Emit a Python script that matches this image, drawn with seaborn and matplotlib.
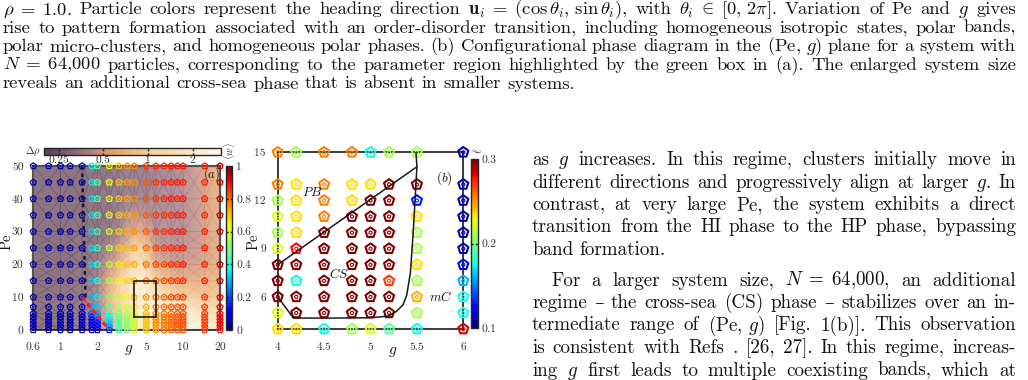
import numpy as np
import pandas as pd
import matplotlib
matplotlib.use("Agg")
import matplotlib.pyplot as plt
import seaborn as sns
from matplotlib.colors import LinearSegmentedColormap, LogNorm, Normalize
from matplotlib.cm import ScalarMappable

# ---------------- data ----------------
# panel (a): order parameter <w> on (g, Pe) grid
g_a = [0.6, 0.8, 1.0, 1.2, 1.5, 1.8, 2.0, 2.5, 3.0, 3.5, 4, 5, 6, 7, 8, 9, 10, 15, 20]
pe_a = [0, 1, 2, 3, 4, 5, 7, 10, 15, 20, 25, 30, 35, 40, 45, 50]
w_a = [
    [.04, .04, .04, .04, .05, .06, .08, .15, .42, .50, .60, .70, .75, .78, .80, .81, .82, .85, .88],
    [.04, .04, .04, .04, .05, .07, .10, .25, .44, .52, .60, .70, .75, .78, .80, .81, .82, .85, .90],
    [.04, .04, .04, .04, .05, .08, .12, .30, .45, .52, .60, .70, .76, .78, .80, .82, .83, .85, .90],
    [.04, .04, .04, .04, .05, .10, .15, .33, .46, .53, .60, .70, .76, .78, .80, .82, .83, .85, .90],
    [.04, .04, .04, .04, .05, .12, .22, .36, .48, .54, .60, .70, .76, .78, .80, .82, .83, .85, .90],
    [.04, .04, .04, .04, .06, .20, .28, .40, .50, .56, .62, .70, .76, .78, .80, .82, .83, .85, .90],
    [.04, .04, .04, .04, .07, .28, .32, .45, .55, .60, .66, .72, .78, .80, .82, .83, .84, .86, .92],
    [.04, .04, .04, .04, .08, .30, .36, .50, .60, .64, .70, .76, .80, .82, .84, .85, .86, .87, .93],
    [.04, .04, .04, .04, .07, .32, .40, .55, .64, .68, .72, .78, .82, .84, .85, .86, .87, .88, .95],
    [.04, .04, .04, .04, .07, .33, .42, .58, .66, .70, .73, .80, .84, .85, .86, .87, .88, .88, .95],
    [.04, .04, .04, .04, .06, .34, .42, .60, .68, .71, .74, .80, .84, .86, .87, .87, .88, .88, .95],
    [.04, .04, .04, .04, .06, .34, .43, .61, .68, .72, .75, .81, .85, .86, .87, .88, .88, .88, .95],
    [.04, .04, .04, .04, .06, .35, .43, .62, .69, .72, .75, .82, .85, .86, .87, .88, .88, .88, .95],
    [.04, .04, .04, .04, .06, .35, .44, .62, .70, .73, .76, .82, .85, .87, .88, .88, .88, .88, .95],
    [.04, .04, .04, .04, .06, .36, .45, .63, .70, .74, .76, .82, .86, .87, .88, .88, .88, .88, .95],
    [.04, .04, .04, .04, .06, .36, .45, .65, .72, .75, .77, .84, .86, .87, .88, .88, .88, .88, .95],
]
# panel (a): background density contrast
g_bg = [0.6, 1.0, 1.5, 2.0, 2.5, 3.0, 4.0, 5.0, 6.0, 8.0, 10.0, 15.0, 20.0]
pe_bg = [0, 5, 10, 15, 20, 25, 30, 40, 50]
drho = [
    [.26, .28, .30, .34, .60, .90, 1.6, 2.2, 2.6, 2.6, 2.6, 2.4, 2.0],
    [.26, .28, .30, .36, .65, 1.0, 1.8, 2.3, 2.6, 2.6, 2.2, 1.6, 1.3],
    [.26, .27, .29, .36, .70, 1.1, 2.0, 2.3, 1.8, 1.3, 1.0, .85, .90],
    [.26, .27, .28, .33, .60, .95, 1.9, 1.9, 1.0, .70, .60, .60, .70],
    [.26, .26, .27, .30, .45, .65, 1.5, 1.3, .60, .48, .45, .50, .62],
    [.26, .26, .27, .28, .35, .45, 1.1, .85, .45, .42, .42, .48, .62],
    [.26, .26, .26, .27, .30, .35, .55, .50, .40, .40, .40, .48, .62],
    [.26, .26, .26, .27, .28, .30, .33, .34, .36, .38, .40, .48, .65],
    [.26, .26, .26, .27, .28, .29, .31, .32, .34, .36, .40, .50, .70],
]
# panel (a) boundaries
black_g, black_pe = [1.5, 1.6], [50, 10]
red_g, red_pe = [1.5, 2.5], [10, 0]
box_g, box_pe = [4, 6], [4, 15]
a_xticks = [0.6, 1, 2, 5, 10, 20]
a_xlabels = ["0.6", "1", "2", "5", "10", "20"]
a_yticks = [0, 10, 20, 30, 40, 50]
rho_ticks = [0.25, 0.5, 1, 2]
rho_labels = ["0.25", "0.5", "1", "2"]
w_ticks = [0, 0.2, 0.4, 0.6, 0.8, 1]
w_labels = ["0", "0.2", "0.4", "0.6", "0.8", "1"]

# panel (b): band length l on (g, Pe) grid, N = 64,000
g_b = [4.0, 4.2, 4.5, 4.8, 5.0, 5.2, 5.5, 6.0]
pe_b = [4, 5, 6, 7, 8, 9, 10, 11, 12, 13, 15]
l_b = [
    [.235, .235, .175, .21, .222, .19, .175, .285],
    [.222, .30, .30, .30, .30, .30, .21, .175],
    [.30, .30, .30, .30, .30, .30, .245, .175],
    [.30, .175, .30, .30, .30, .27, .21, .16],
    [.30, .30, .30, .30, .30, .30, .235, .125],
    [.222, .28, .30, .30, .30, .30, .21, .11],
    [.21, .235, .30, .30, .30, .30, .21, .11],
    [.222, .235, .255, .30, .30, .30, .235, .11],
    [.21, .235, .255, .235, .30, .30, .13, .11],
    [.255, .235, .255, .235, .235, .30, .30, .11],
    [.255, .21, .255, .255, .175, .21, .21, .11],
]
cs_g = [4.0, 4.17, 4.6, 5.0, 5.19, 5.28, 5.35, 5.39, 5.43, 5.46, 5.48, 5.5]
cs_pe = [6.0, 4.68, 4.68, 4.7, 4.8, 5.1, 5.5, 6.1, 7.5, 10.0, 12.0, 14.1]
pb_g = [4.0, 5.5, 5.49]
pb_pe = [8.0, 14.1, 15.0]
b_xticks = [4, 4.5, 5, 5.5, 6]
b_xlabels = ["4", "4.5", "5", "5.5", "6"]
b_yticks = [6, 9, 12, 15]
l_ticks = [0.1, 0.2, 0.3]
l_labels = ["0.1", "0.2", "0.3"]

caption = [
    r"$\rho\;=\;1.0$. Particle colors represent the heading direction $\mathbf{u}_i\;=\;(\cos\theta_i,\,\sin\theta_i)$, with $\theta_i\;\in\;[0,\,2\pi]$. Variation of Pe and $g$ gives",
    "rise to pattern formation associated with an order-disorder transition, including homogeneous isotropic states, polar bands,",
    r"polar micro-clusters, and homogeneous polar phases. (b) Configurational phase diagram in the $(\mathrm{Pe},\,g)$ plane for a system with",
    r"$N\;=\;64{,}000$ particles, corresponding to the parameter region highlighted by the green box in (a). The enlarged system size",
    "reveals an additional cross-sea phase that is absent in smaller systems.",
]
body = [
    r"as $g$ increases. In this regime, clusters initially move in",
    r"different directions and progressively align at larger $g$. In",
    "contrast, at very large Pe, the system exhibits a direct",
    "transition from the HI phase to the HP phase, bypassing",
    "band formation.",
    r"For a larger system size, $N\;=\;64{,}000$, an additional",
    "regime \u2013 the cross-sea (CS) phase \u2013 stabilizes over an in-",
    r"termediate range of $(\mathrm{Pe},\,g)$ [Fig. 1(b)]. This observation",
    "is consistent with Refs . [26, 27]. In this regime, increas-",
    r"ing $g$ first leads to multiple coexisting bands, which at",
]

# ---------------- style ----------------
sns.set_theme(style="white")
plt.rcParams["font.family"] = ["cmr10", "DejaVu Serif"]
plt.rcParams["mathtext.fontset"] = "cm"
plt.rcParams["axes.formatter.use_mathtext"] = True
plt.rcParams["axes.unicode_minus"] = False

W, H = 1028, 380
fig = plt.figure(figsize=(W / 100, H / 100), dpi=100)
fig.patch.set_facecolor("white")
TXT = "#111111"
TCK = "#333333"
JET = matplotlib.colormaps["jet"]


def ax_px(l, t, r, b):
    return fig.add_axes([l / W, 1 - b / H, (r - l) / W, (b - t) / H])


rho_cmap = LinearSegmentedColormap.from_list(
    "rho",
    [(0.0, "#573b4e"), (0.148, "#806274"), (0.253, "#a87a84"), (0.334, "#d89672"),
     (0.457, "#eeae70"), (0.587, "#f6cc94"), (0.84, "#fce8c2"), (1.0, "#fffbf2")])
rho_norm = LogNorm(0.2, 3.1)

# ---------------- panel (a) ----------------
axa = ax_px(33.3, 166, 220, 330)
axa.set_xscale("log")
G, P = np.meshgrid(g_bg, pe_bg)
axa.pcolormesh(G, P, np.array(drho), shading="gouraud", cmap=rho_cmap, norm=rho_norm,
               alpha=0.8, zorder=0, rasterized=True)
n_before = len(axa.collections)
gg, pp = np.meshgrid(g_a, pe_a)
dfa = pd.DataFrame({"g": gg.ravel(), "Pe": pp.ravel(), "w": np.array(w_a).ravel()})
sns.scatterplot(data=dfa, x="g", y="Pe", hue="w", palette=JET, hue_norm=(0, 1),
                marker="p", s=21, linewidth=0.9, legend=False, ax=axa, zorder=3)
sns.scatterplot(data=dfa, x="g", y="Pe", hue="w", palette=JET, hue_norm=(0, 1),
                marker="o", s=1.3, linewidth=0.5, legend=False, ax=axa, zorder=3)
for coll in axa.collections[n_before:]:
    fc = coll.get_facecolors()
    coll.set_edgecolors(fc)
    coll.set_facecolors("none")
    coll.set_clip_on(False)
axa.plot(black_g, black_pe, color="k", lw=1.8, ls=(0, (1.5, 1.5)), zorder=4)
axa.plot(red_g, red_pe, color="#ff1a1a", lw=2.2, ls=(0, (1.5, 1.2)), zorder=4)
axa.plot([box_g[0], box_g[1], box_g[1], box_g[0], box_g[0]],
         [box_pe[0], box_pe[0], box_pe[1], box_pe[1], box_pe[0]], color="k", lw=1.2, zorder=4)
axa.set_xlim(0.6, 20)
axa.set_ylim(0, 50)
axa.minorticks_off()
axa.set_xticks(a_xticks)
axa.set_xticklabels(a_xlabels)
axa.set_yticks(a_yticks)
axa.set_yticklabels([str(v) for v in a_yticks])
axa.tick_params(axis="x", length=0, pad=9, labelsize=8.3, labelcolor=TCK)
axa.tick_params(axis="y", length=0, pad=7, labelsize=8.3, labelcolor=TCK)
axa.set_xlabel("")
axa.set_ylabel("")
for s in ["left", "right", "top"]:
    axa.spines[s].set_color("#555555")
    axa.spines[s].set_linewidth(1.6)
axa.spines["bottom"].set_color("k")
axa.spines["bottom"].set_linewidth(1.2)
fig.text(129 / W, 1 - 352 / H, r"$g$", fontsize=11, ha="center", va="baseline", color=TXT)
fig.text(7 / W, 1 - 242 / H, "Pe", fontsize=10.5, ha="center", va="center", rotation=90, color=TXT)
fig.text(212 / W, 1 - 174 / H, r"$(a)$", fontsize=9, ha="center", va="center", color=TXT)

# top colorbar (Delta rho)
cax_r = ax_px(44.3, 147.5, 221, 155)
cbr = fig.colorbar(ScalarMappable(rho_norm, rho_cmap), cax=cax_r, orientation="horizontal")
cbr.minorticks_off()
cbr.set_ticks(rho_ticks)
cbr.set_ticklabels(rho_labels)
cax_r.tick_params(length=0, pad=0.5, labelsize=8.3, labelcolor=TCK)
cbr.outline.set_linewidth(1.0)
for v in rho_ticks:
    cax_r.axvline(v, color="k", lw=1.0, ls=(0, (1.5, 1.5)))
fig.text(33 / W, 1 - 151 / H, r"$\Delta\rho$", fontsize=7.5, ha="center", va="center", color=TCK)

# right colorbar (<w>)
cax_w = ax_px(225.7, 166, 232.3, 330)
cbw = fig.colorbar(ScalarMappable(Normalize(0, 1), JET), cax=cax_w)
cbw.set_ticks(w_ticks)
cbw.set_ticklabels(w_labels)
cax_w.tick_params(length=0, pad=3, labelsize=8.3, labelcolor=TCK)
cbw.outline.set_linewidth(1.0)
for v in w_ticks[1:-1]:
    cax_w.axhline(v, color="k", lw=1.0, ls=(0, (1.5, 1.5)))
fig.text(229 / W, 1 - 151 / H, r"$\langle w\rangle$", fontsize=7.5, ha="center", va="center",
         rotation=90, color=TCK)

# ---------------- panel (b) ----------------
axb = ax_px(277.7, 152.3, 463.3, 329)
gb, pb = np.meshgrid(g_b, pe_b)
dfb = pd.DataFrame({"g": gb.ravel(), "Pe": pb.ravel(), "l": np.array(l_b).ravel()})
sns.scatterplot(data=dfb, x="g", y="Pe", hue="l", palette=JET, hue_norm=(0.1, 0.3),
                marker="p", s=58, linewidth=1.5, legend=False, ax=axb, zorder=3)
sns.scatterplot(data=dfb, x="g", y="Pe", hue="l", palette=JET, hue_norm=(0.1, 0.3),
                marker="o", s=5, linewidth=0.8, legend=False, ax=axb, zorder=3)
for coll in axb.collections:
    fc = coll.get_facecolors()
    coll.set_edgecolors(fc)
    coll.set_facecolors("none")
    coll.set_clip_on(False)
axb.plot(cs_g, cs_pe, color="k", lw=1.1, zorder=4)
axb.plot(pb_g, pb_pe, color="k", lw=1.1, zorder=4)
axb.set_xlim(4, 6)
axb.set_ylim(4, 15)
axb.set_xticks(b_xticks)
axb.set_xticklabels(b_xlabels)
axb.set_yticks(b_yticks)
axb.set_yticklabels([str(v) for v in b_yticks])
axb.tick_params(axis="both", direction="inout", length=5, width=1, color="k",
                labelsize=8.3, labelcolor=TCK)
axb.tick_params(axis="x", pad=7)
axb.tick_params(axis="y", pad=6)
axb.set_xlabel("")
axb.set_ylabel("")
for s in axb.spines.values():
    s.set_color("k")
    s.set_linewidth(1.2)
fig.text(393 / W, 1 - 354 / H, r"$g$", fontsize=11, ha="center", va="baseline", color=TXT)
fig.text(254 / W, 1 - 242 / H, "Pe", fontsize=10.5, ha="center", va="center", rotation=90, color=TXT)
axb.text(4.37, 12.5, r"$PB$", fontsize=9.5, ha="center", va="center", color=TXT)
axb.text(4.66, 7.4, r"$CS$", fontsize=9.5, ha="center", va="center", color=TXT)
axb.text(5.76, 6.0, r"$mC$", fontsize=9.5, ha="center", va="center", color=TXT)
axb.text(5.8, 13.4, r"$(b)$", fontsize=9.5, ha="center", va="center", color=TXT)

cax_l = ax_px(471, 159, 477.7, 328)
cbl = fig.colorbar(ScalarMappable(Normalize(0.1, 0.3), JET), cax=cax_l)
cbl.set_ticks(l_ticks)
cbl.set_ticklabels(l_labels)
cax_l.tick_params(length=0, pad=3, labelsize=8.3, labelcolor=TCK)
cbl.outline.set_linewidth(1.0)
cax_l.axhline(0.2, color="k", lw=1.0, ls=(0, (1.5, 1.5)))
fig.text(478 / W, 1 - 151 / H, r"$\ell$", fontsize=8, ha="center", va="center", rotation=90, color=TCK)

# ---------------- page text (justified) ----------------
R = fig.canvas.get_renderer()


def width_of(s, size):
    t = fig.text(0, 0, s, fontsize=size)
    w = t.get_window_extent(R).width
    t.remove()
    return w


def fit_size(s, target):
    return 10.0 * target / width_of(s, 10.0)


def place_line(line, x0, x1, ybase, size, justify=True):
    toks = line.split(" ")
    ts = [fig.text(0, 1 - ybase / H, t, fontsize=size, ha="left", va="baseline", color=TXT)
          for t in toks]
    ws = [t.get_window_extent(R).width for t in ts]
    if justify and len(ts) > 1:
        gap = (x1 - x0 - sum(ws)) / (len(ts) - 1)
    else:
        gap = width_of("a a", size) - width_of("aa", size)
    x = x0
    for t, w in zip(ts, ws):
        t.set_x(x / W)
        x += w + gap


cap_size = fit_size(caption[-1], 575)
for i, line in enumerate(caption):
    place_line(line, 3, 1016, 14.3 + 18.55 * i, cap_size, justify=(i < len(caption) - 1))

# body font: natural line width fills about 96 % of the column
body_x0 = [551 if i == 5 else 532 for i in range(len(body))]
just_idx = [i for i in range(len(body)) if i != 4]
ratios = [(1016 - body_x0[i]) * 0.96 / width_of(body[i], 10.0) for i in just_idx]
body_size = 10.0 * float(np.mean(ratios))
body_base = [165, 187.5, 210, 232.5, 255, 285.5, 308, 330.5, 353, 375.5]
for i, line in enumerate(body):
    place_line(line, body_x0[i], 1016, body_base[i], body_size, justify=(i != 4))

fig.savefig("out.png", dpi=100, facecolor="white")
